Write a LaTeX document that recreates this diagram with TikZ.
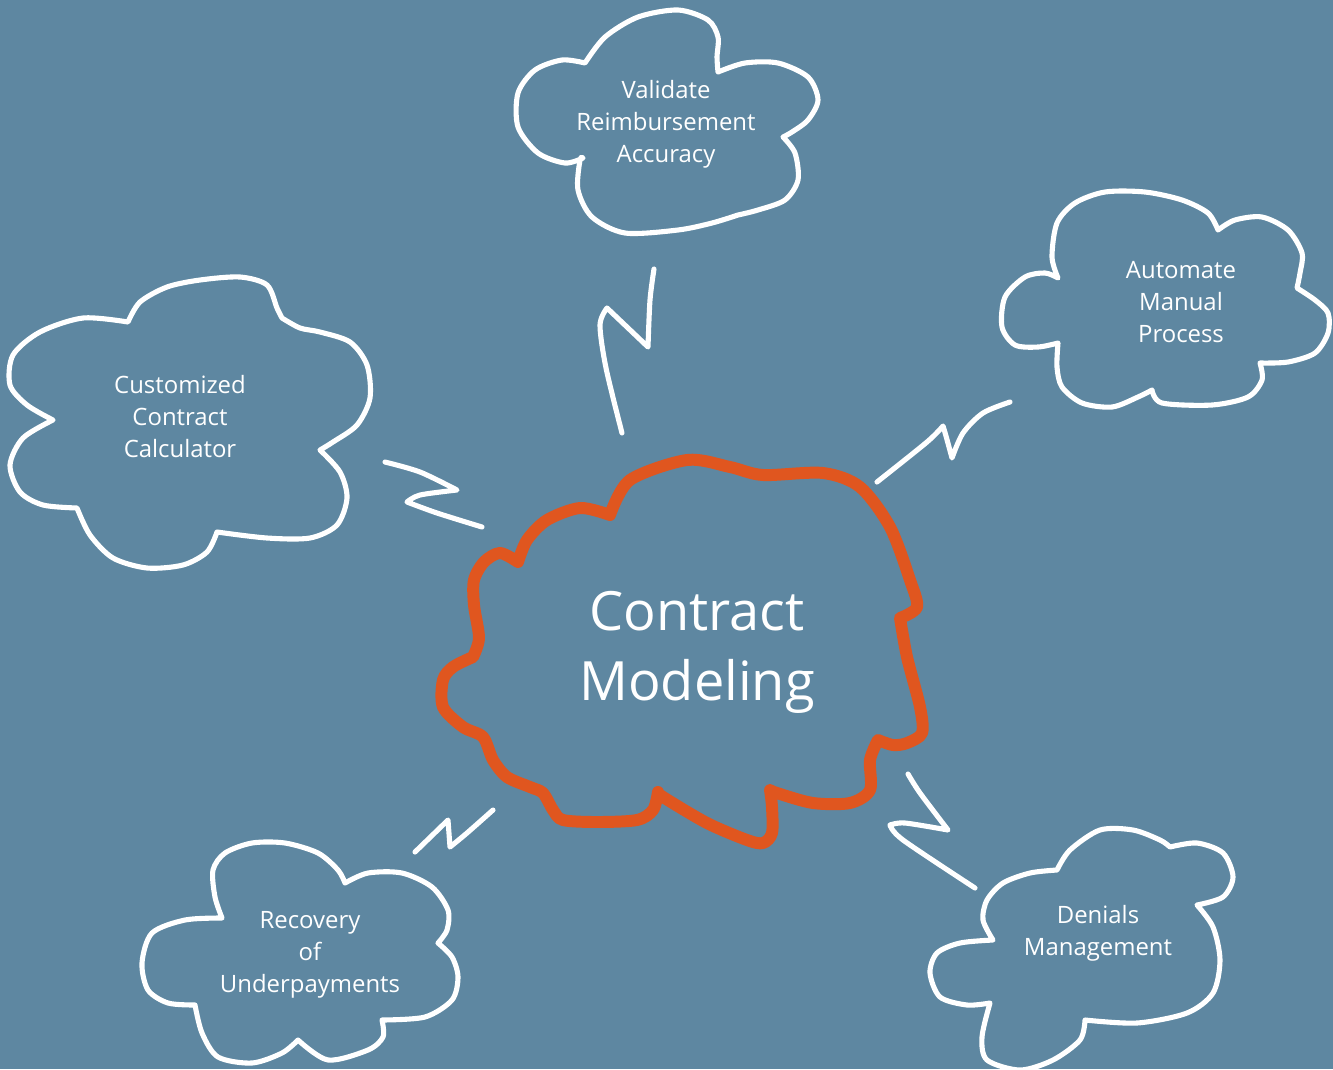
\documentclass[tikz,border=0pt]{standalone}
\usepackage{fontspec}
\setmainfont{Open Sans}
\definecolor{slate}{HTML}{5E87A1}
\definecolor{rust}{HTML}{E0561F}
\tikzset{
  cloudline/.style={draw=white, line width=1.45pt, line join=round, line cap=round},
  hubline/.style={draw=rust, line width=3.4pt, line join=round, line cap=round},
  bolt/.style={draw=white, line width=1.45pt, line join=round, line cap=round},
  cloudtext/.style={text=white, align=center, font=\fontsize{6.8}{9.1}\selectfont},
  hubtext/.style={text=white, align=center, font=\fontsize{15.4}{19.9}\selectfont},
}

\begin{document}
\begin{tikzpicture}[x=0.01cm, y=-0.01cm]
\fill[slate] (0,0) rectangle (1333,1069);
\useasboundingbox (0,0) rectangle (1333,1069);
\clip (0,0) rectangle (1333,1069);

% centre cloud
\draw[hubline] plot[smooth] coordinates {(610,515) (630,480) (687,460) (730,467) (763,475) (823,473) (860,487) (890,527) (910,580) (917,607) (900,618)}
  -- plot[smooth] coordinates {(900,618) (907,657) (920,707) (922,733) (907,743) (893,745) (878,740)}
  -- plot[smooth] coordinates {(878,740) (870,760) (870,790) (850,803) (813,803) (777,793) (770,790)}
  -- plot[smooth] coordinates {(770,790) (772,807) (772,833) (763,843) (747,840) (707,823) (663,797) (658,792)}
  -- plot[smooth] coordinates {(658,792) (653,810) (637,820) (597,822) (563,820) (553,810) (543,793) (530,787) (507,777) (493,760) (483,737) (463,727) (443,707) (443,680) (453,667) (473,657)}
  -- plot[smooth] coordinates {(473,657) (479,638) (474,605) (474,580) (484,562) (500,553) (518,562)}
  -- plot[smooth] coordinates {(518,562) (527,540) (547,520) (580,508) (610,515)}
  -- cycle;
\node[hubtext] (modeling) at (697,652) {Contract\\Modeling};

% Validate
\draw[cloudline] plot[smooth] coordinates {(585,63) (605,37) (638,17) (678,10) (708,20) (718,37) (717,57) (718,72)}
  -- plot[smooth] coordinates {(718,72) (745,63) (778,63) (808,77) (818,100) (808,120) (792,132) (783,137)}
  -- plot[smooth] coordinates {(783,137) (795,153) (798,180) (785,200) (758,210) (738,215)}
  -- plot[smooth] coordinates {(738,215) (712,223) (678,230) (625,233) (592,217) (578,190) (580,160) (583,158)}
  -- plot[smooth] coordinates {(583,158) (565,163) (538,153) (518,127) (518,93) (535,70) (562,60) (585,63)}
  -- cycle;
\node[cloudtext] (validate) at (666,124) {Validate\\Reimbursement\\Accuracy};

% Automate
\draw[cloudline] plot[smooth] coordinates {(1058,278) (1052,257) (1057,223) (1075,203) (1105,192) (1145,192) (1182,200) (1208,213) (1218,230)}
  -- plot[smooth] coordinates {(1218,230) (1235,220) (1262,217) (1288,230) (1302,253) (1300,273) (1297,288)}
  -- plot[smooth] coordinates {(1297,288) (1315,300) (1328,313) (1328,333) (1315,353) (1288,362) (1260,363)}
  -- plot[smooth] coordinates {(1260,363) (1262,380) (1248,397) (1212,405) (1162,403) (1152,390)}
  -- plot[smooth] coordinates {(1152,390) (1138,397) (1112,407) (1082,403) (1062,387) (1057,367) (1058,343)}
  -- plot[smooth] coordinates {(1058,343) (1038,347) (1015,345) (1002,327) (1005,297) (1025,277) (1045,273) (1058,278)}
  -- cycle;
\node[cloudtext] (automate) at (1181,302) {Automate\\Manual\\Process};

% Customized
\draw[cloudline] plot[smooth] coordinates {(128,322) (140,302) (167,287) (200,280) (240,277) (267,285) (277,308) (282,318)}
  -- plot[smooth] coordinates {(282,318) (300,328) (320,332) (350,342) (367,365) (370,398) (357,425) (333,442) (320,450)}
  -- plot[smooth] coordinates {(320,450) (340,472) (347,498) (337,525) (310,538) (267,538) (217,532)}
  -- plot[smooth] coordinates {(217,532) (207,552) (183,565) (147,568) (113,558) (90,535) (77,508)}
  -- plot[smooth] coordinates {(77,508) (43,505) (20,492) (10,465) (23,438) (53,420)}
  -- plot[smooth] coordinates {(53,420) (27,405) (10,385) (13,355) (40,332) (83,318) (128,322)}
  -- cycle;
\node[cloudtext] (calculator) at (180,417) {Customized\\Contract\\Calculator};

% Recovery
\draw[cloudline] plot[smooth] coordinates {(222,918) (215,897) (213,870) (225,853) (252,843) (285,843) (318,853) (338,870) (345,883)}
  -- plot[smooth] coordinates {(345,883) (368,873) (402,873) (432,887) (448,910) (447,930) (438,943)}
  -- plot[smooth] coordinates {(438,943) (452,957) (458,977) (452,1000) (425,1017) (382,1020)}
  -- plot[smooth] coordinates {(382,1020) (383,1037) (368,1050) (328,1060) (298,1040)}
  -- plot[smooth] coordinates {(298,1040) (282,1053) (252,1063) (218,1057) (202,1033) (195,1005)}
  -- plot[smooth] coordinates {(195,1005) (168,1003) (148,990) (142,963) (152,933) (185,920) (222,918)}
  -- cycle;
\node[cloudtext] (recovery) at (310,955) {Recovery\\of\\Underpayments};

% Denials
\draw[cloudline] plot[smooth] coordinates {(1057,870) (1070,850) (1100,830) (1133,830) (1160,840) (1170,847)}
  -- plot[smooth] coordinates {(1170,847) (1197,843) (1223,853) (1233,877) (1223,897) (1197,905)}
  -- plot[smooth] coordinates {(1197,905) (1213,927) (1220,960) (1213,993) (1187,1013) (1137,1023) (1085,1020)}
  -- plot[smooth] coordinates {(1085,1020) (1080,1040) (1053,1060) (1020,1070) (987,1060) (982,1037) (990,1003)}
  -- plot[smooth] coordinates {(990,1003) (967,1005) (940,997) (930,973) (937,953) (960,943) (993,940)}
  -- plot[smooth] coordinates {(993,940) (983,920) (987,900) (1003,883) (1030,873) (1057,870)}
  -- cycle;
\node[cloudtext] (denials) at (1098,933) {Denials\\Management};

% bolts
\coordinate (v1) at (654,269);
\coordinate (v2) at (622,433);
\draw[bolt] plot[smooth] coordinates {(v1) (650,300) (648,347)}
  -- (607,308)
  -- plot[smooth] coordinates {(607,308) (600,325) (606,368) (v2)};

\coordinate (a1) at (1010,402);
\coordinate (a2) at (877,482);
\draw[bolt] plot[smooth] coordinates {(a1) (983,413) (963,433) (952,458)}
  -- plot[smooth] coordinates {(952,458) (946,436) (943,426)}
  -- plot[smooth] coordinates {(943,426) (927,442) (a2)};

\coordinate (c1) at (385,462);
\coordinate (c2) at (482,527);
\draw[bolt] plot[smooth] coordinates {(c1) (420,472) (457,490)}
  -- plot[smooth] coordinates {(457,490) (420,495) (407,502)}
  -- plot[smooth] coordinates {(407,502) (437,513) (c2)};

\coordinate (r1) at (493,810);
\coordinate (r2) at (415,852);
\draw[bolt] plot[smooth] coordinates {(r1) (467,833) (450,847)}
  -- (448,820) -- (r2);

\coordinate (d1) at (908,774);
\coordinate (d2) at (975,888);
\draw[bolt] plot[smooth] coordinates {(d1) (920,793) (948,830)}
  -- plot[smooth] coordinates {(948,830) (905,823) (890,825)}
  -- plot[smooth] coordinates {(890,825) (903,840) (d2)};
\end{tikzpicture}
\end{document}
